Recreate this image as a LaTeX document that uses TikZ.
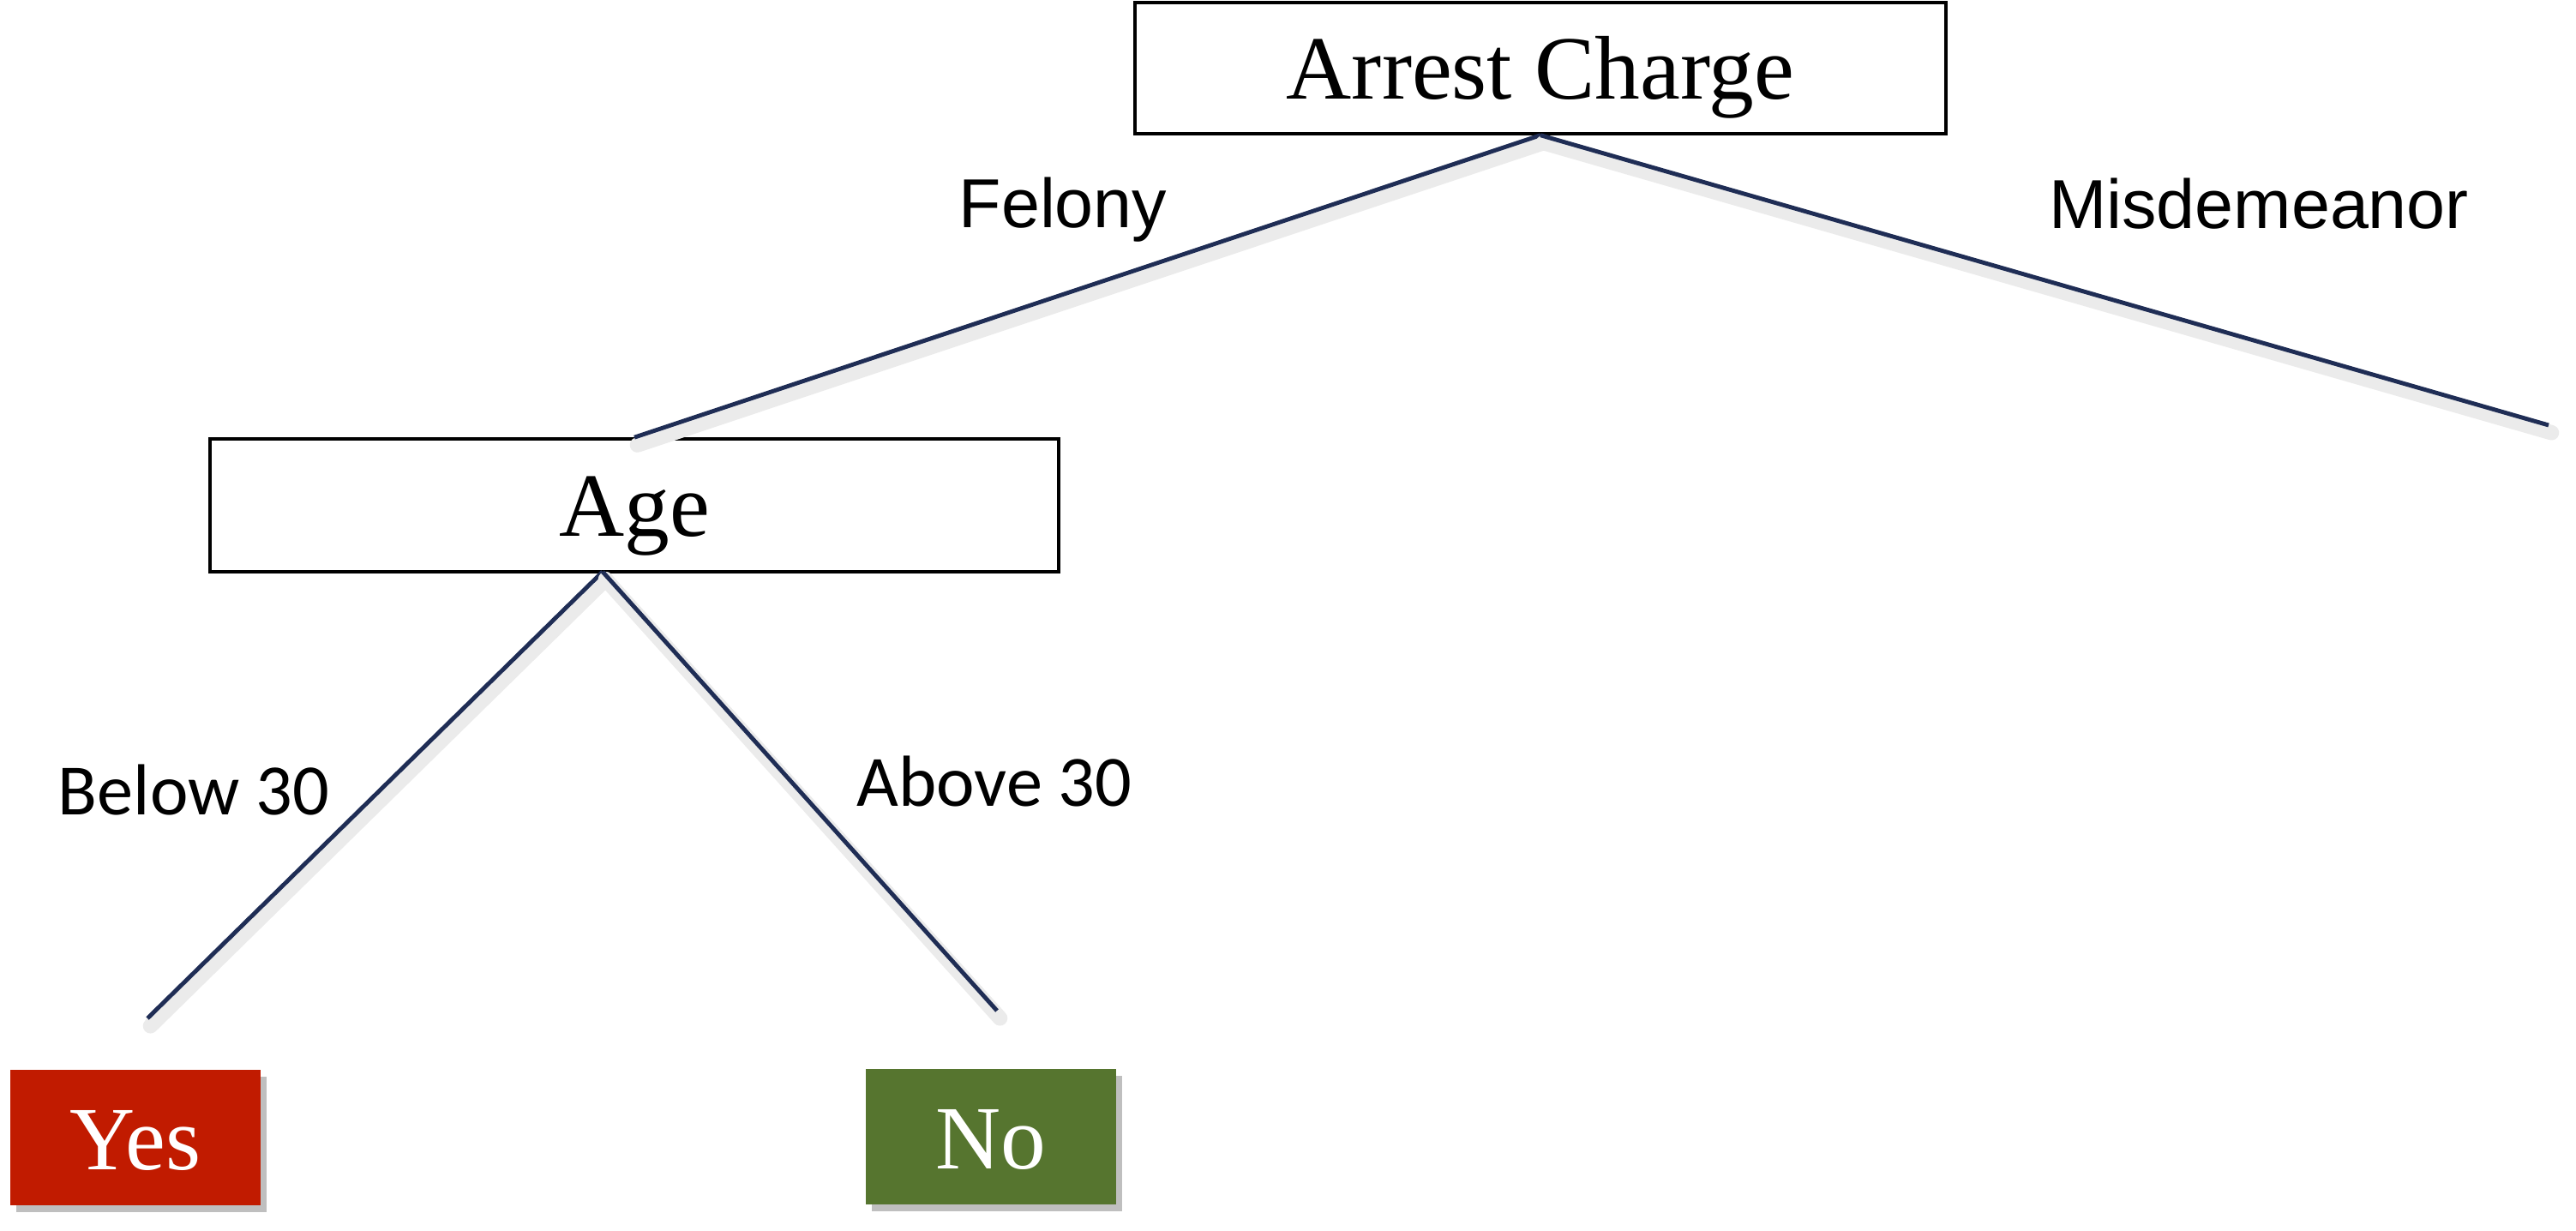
\documentclass[tikz,border=0pt]{standalone}
\usepackage{fontspec}
\setmainfont{Liberation Serif}
\newfontfamily\armfont{Liberation Sans}
\newfontfamily\agefont{Carlito}
\usetikzlibrary{shadows}
\definecolor{linkblue}{HTML}{1F2D55}
\definecolor{yesred}{HTML}{C11B00}
\definecolor{nogreen}{HTML}{56752F}
\begin{document}
\begin{tikzpicture}[
        line width=1pt,
        font=\fontsize{30}{36}\selectfont
    ]
    \tikzset{
        splitnode/.style = {rectangle, draw=black, fill=white, align=center, inner sep=0pt, text height=0.95cm, text depth=0.22cm},
        leafnode/.style = {rectangle, text=white, inner sep=0pt, minimum width=2.92cm, minimum height=1.58cm,
            text height=0.95cm, text depth=0.2cm,
            drop shadow={shadow xshift=0.07cm, shadow yshift=-0.08cm, fill=black, opacity=0.25}},
        link/.style = {draw=linkblue, line width=1.4pt},
        linkshadow/.style = {draw=black!8, line width=5pt, line cap=round, transform canvas={xshift=1pt, yshift=-2.5pt}},
        armlabel/.style = {font=\armfont\fontsize{23}{28}\selectfont},
        agelabel/.style = {font=\agefont\fontsize{24}{29}\selectfont},
    }
    \useasboundingbox (0,0) rectangle (30.05,14.36);
    % boxes
    \node[splitnode,minimum width=9.46cm,minimum height=1.53cm] (charge) at (17.97,13.565) {Arrest Charge};
    \node[splitnode,minimum width=9.90cm,minimum height=1.55cm] (age) at (7.40,8.465) {Age};
    \node[leafnode,fill=yesred] (yes) at (1.58,1.085) {Yes};
    \node[leafnode,fill=nogreen] (no) at (11.555,1.095) {No};
    % loose ends of the branches
    \coordinate (misd) at (29.73,9.40);
    \coordinate (agefork) at (7.03,7.69);
    \coordinate (below) at (1.72,2.48);
    \coordinate (above) at (11.63,2.57);
    % branches
    \foreach \a/\b in {charge.south/age.north, charge.south/misd, agefork/below, agefork/above} {
        \draw[linkshadow] (\a) -- (\b);
        \draw[link] (\a) -- (\b);
    }
    % branch labels
    \node[armlabel] (felonylbl) at (12.40,11.91) {Felony};
    \node[armlabel] (misdlbl) at (26.35,11.98) {Misdemeanor};
    \node[agelabel] (belowlbl) at (2.26,5.14) {Below 30};
    \node[agelabel] (abovelbl) at (11.60,5.24) {Above 30};
\end{tikzpicture}
\end{document}
